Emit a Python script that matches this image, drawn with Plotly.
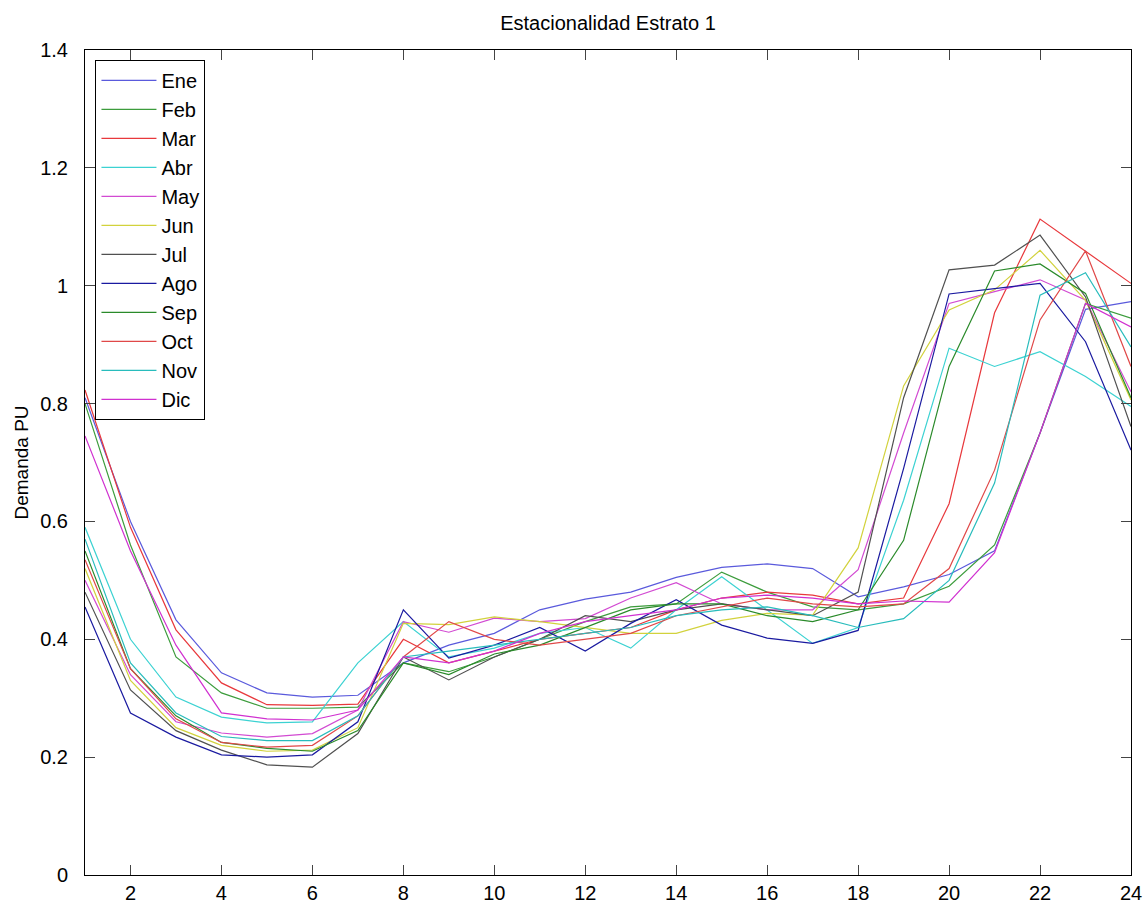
import plotly.graph_objects as go

hours = list(range(1, 25))
months = ["Ene", "Feb", "Mar", "Abr", "May", "Jun", "Jul", "Ago", "Sep", "Oct", "Nov", "Dic"]

ene = [0.81, 0.60, 0.433, 0.343, 0.309, 0.302, 0.305, 0.36, 0.39, 0.41, 0.45, 0.468, 0.48, 0.505, 0.522, 0.528, 0.52, 0.472, 0.489, 0.51, 0.55, 0.75, 0.96, 0.973]
feb = [0.80, 0.56, 0.37, 0.309, 0.283, 0.283, 0.285, 0.36, 0.345, 0.37, 0.40, 0.43, 0.455, 0.46, 0.514, 0.48, 0.455, 0.45, 0.46, 0.49, 0.56, 0.75, 0.97, 0.945]
mar = [0.823, 0.59, 0.416, 0.326, 0.289, 0.288, 0.29, 0.40, 0.36, 0.38, 0.40, 0.41, 0.42, 0.45, 0.47, 0.48, 0.475, 0.46, 0.47, 0.63, 0.954, 1.113, 1.059, 1.004]
abr = [0.59, 0.40, 0.302, 0.268, 0.258, 0.26, 0.36, 0.43, 0.37, 0.385, 0.41, 0.42, 0.385, 0.45, 0.506, 0.45, 0.393, 0.42, 0.636, 0.894, 0.863, 0.888, 0.846, 0.795]
may = [0.50, 0.34, 0.26, 0.241, 0.234, 0.24, 0.28, 0.43, 0.412, 0.436, 0.43, 0.435, 0.47, 0.496, 0.46, 0.45, 0.45, 0.518, 0.75, 0.97, 0.99, 1.01, 0.976, 0.82]
jun = [0.52, 0.33, 0.25, 0.22, 0.21, 0.212, 0.25, 0.427, 0.425, 0.438, 0.43, 0.42, 0.41, 0.41, 0.432, 0.444, 0.441, 0.555, 0.83, 0.959, 0.993, 1.06, 0.975, 0.806]
jul = [0.48, 0.314, 0.245, 0.212, 0.187, 0.183, 0.24, 0.37, 0.331, 0.37, 0.40, 0.44, 0.43, 0.45, 0.46, 0.45, 0.44, 0.48, 0.81, 1.027, 1.035, 1.086, 0.981, 0.761]
ago = [0.455, 0.275, 0.234, 0.204, 0.20, 0.204, 0.26, 0.45, 0.368, 0.39, 0.42, 0.38, 0.427, 0.467, 0.424, 0.402, 0.393, 0.415, 0.69, 0.986, 0.995, 1.004, 0.905, 0.721]
sep = [0.55, 0.35, 0.27, 0.225, 0.215, 0.21, 0.245, 0.36, 0.34, 0.375, 0.39, 0.42, 0.45, 0.46, 0.46, 0.44, 0.43, 0.45, 0.568, 0.863, 1.025, 1.037, 0.987, 0.81]
oct_ = [0.535, 0.35, 0.265, 0.225, 0.217, 0.22, 0.27, 0.37, 0.43, 0.40, 0.39, 0.40, 0.41, 0.44, 0.455, 0.47, 0.46, 0.455, 0.46, 0.52, 0.687, 0.942, 1.059, 0.863]
nov = [0.57, 0.36, 0.275, 0.235, 0.228, 0.228, 0.27, 0.37, 0.38, 0.39, 0.40, 0.41, 0.42, 0.44, 0.45, 0.455, 0.44, 0.42, 0.435, 0.50, 0.665, 0.984, 1.022, 0.896]
dic = [0.745, 0.55, 0.39, 0.275, 0.265, 0.263, 0.28, 0.37, 0.36, 0.38, 0.41, 0.43, 0.44, 0.45, 0.47, 0.475, 0.47, 0.46, 0.465, 0.463, 0.547, 0.75, 0.97, 0.93]

series = [ene, feb, mar, abr, may, jun, jul, ago, sep, oct_, nov, dic]
colors = ["#5a5adc", "#3c9c3c", "#e8383c", "#3cd2d2", "#d24ad2", "#d2d23c",
          "#505050", "#1a1aa0", "#2a8a2a", "#e04848", "#28bcbc", "#d030d0"]

x_ticks = list(range(2, 25, 2))
y_ticks = [0, 0.2, 0.4, 0.6, 0.8, 1.0, 1.2, 1.4]
y_ticktext = ["0", "0.2", "0.4", "0.6", "0.8", "1", "1.2", "1.4"]

fig = go.Figure()
for name, vals, col in zip(months, series, colors):
    fig.add_trace(go.Scatter(x=hours, y=vals, mode="lines", name=name,
                             line=dict(color=col, width=1.2)))

font_family = "Liberation Sans, Arial, sans-serif"
fig.update_layout(
    width=1146, height=905,
    margin=dict(l=85, r=15, t=50, b=30, autoexpand=False),
    paper_bgcolor="white", plot_bgcolor="white",
    font=dict(family=font_family, color="black", size=19),
    title=dict(text="Estacionalidad Estrato 1", x=0.5306, xanchor="center",
               y=0.975, yanchor="middle", font=dict(size=20, family=font_family)),
    showlegend=True,
    legend=dict(x=0.01, y=0.988, xanchor="left", yanchor="top",
                bordercolor="black", borderwidth=1, bgcolor="white",
                font=dict(size=20, family=font_family), tracegroupgap=0,
                itemwidth=55),
)
fig.update_xaxes(range=[1, 24], tickvals=x_ticks, ticks="inside", ticklen=10,
                 showline=True, linecolor="black", linewidth=1, mirror="ticks",
                 showgrid=False, zeroline=False, tickfont=dict(size=20),
                 automargin=False)
fig.update_yaxes(range=[0, 1.4], tickvals=y_ticks, ticktext=y_ticktext,
                 ticks="inside", ticklen=10, showline=True, linecolor="black",
                 linewidth=1, mirror="ticks", showgrid=False, zeroline=False,
                 tickfont=dict(size=20), ticklabelstandoff=12, automargin=False,
                 title=dict(text="Demanda PU", font=dict(size=19), standoff=6))

fig.write_html("out.html")
